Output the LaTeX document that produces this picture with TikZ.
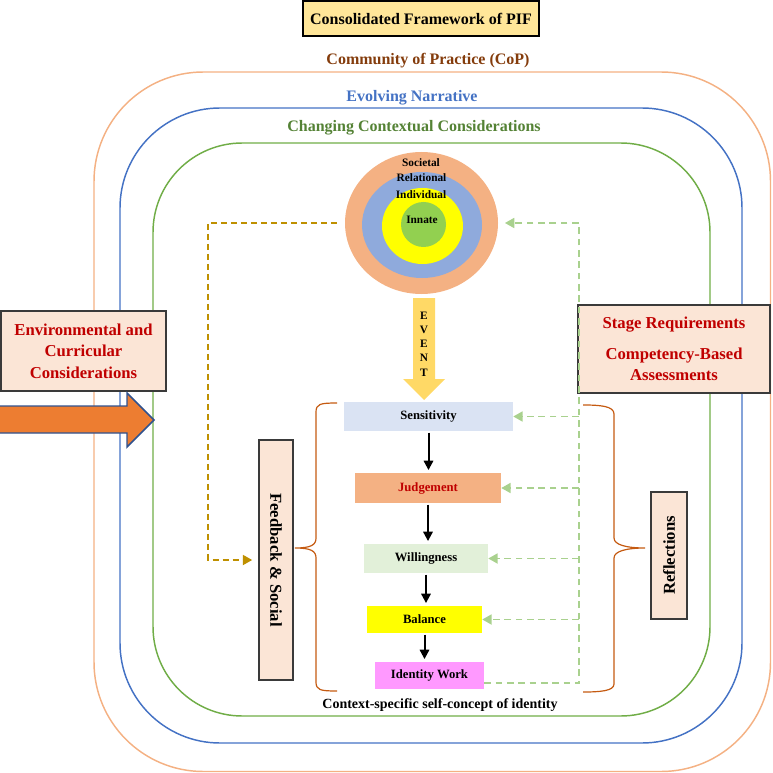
\documentclass[tikz,border=0pt]{standalone}
\usepackage{fontspec}
\setmainfont{Liberation Serif}
\usetikzlibrary{arrows.meta,shapes.geometric}

\definecolor{copc}{HTML}{F4B183}
\definecolor{coptxt}{HTML}{843C0C}
\definecolor{narrc}{HTML}{4472C4}
\definecolor{ctxc}{HTML}{70AD47}
\definecolor{ctxtxt}{HTML}{548235}
\definecolor{titlec}{HTML}{FFE699}
\definecolor{redtxt}{HTML}{C00000}
\definecolor{peach}{HTML}{FBE5D6}
\definecolor{boxline}{HTML}{3A3A3A}
\definecolor{sensc}{HTML}{DAE3F3}
\definecolor{judgc}{HTML}{F4B183}
\definecolor{willc}{HTML}{E2F0D9}
\definecolor{balc}{HTML}{FFFF00}
\definecolor{idc}{HTML}{FF99FF}
\definecolor{socc}{HTML}{F4B183}
\definecolor{relc}{HTML}{8FAADC}
\definecolor{indc}{HTML}{FFFF00}
\definecolor{innc}{HTML}{92D050}
\definecolor{eventc}{HTML}{FFD966}
\definecolor{fsc}{HTML}{BF9000}
\definecolor{fbc}{HTML}{A9D18E}
\definecolor{bracec}{HTML}{C55A11}
\definecolor{arrowc}{HTML}{ED7D31}
\definecolor{arrowbd}{HTML}{2F528F}

\begin{document}
\begin{tikzpicture}[x=0.75pt,y=-0.75pt]
%\draw[help lines,step=50] (0,0) grid (773,773);
\useasboundingbox (0,0) rectangle (773,773);
\tikzstyle{lbl}=[inner sep=0pt,align=center]
\tikzstyle{big}=[font=\fontsize{12.5}{16}\selectfont\bfseries]
\tikzstyle{frame}=[line width=1.1pt]
\tikzstyle{ring}=[ellipse,inner sep=0pt]
\tikzstyle{ringtxt}=[lbl,font=\fontsize{8.5}{10}\selectfont\bfseries]
\tikzstyle{stagebox}=[inner sep=0pt,font=\fontsize{9.5}{11}\selectfont\bfseries]
\tikzstyle{side}=[draw=boxline,fill=peach,line width=1.2pt,inner sep=0pt,align=center]
\tikzstyle{flow}=[-{Triangle[length=7pt,width=7pt]},line width=1.5pt,shorten >=2pt,shorten <=1pt]
\tikzstyle{fb}=[draw=fbc,line width=1.3pt,dash pattern=on 5pt off 3.5pt,-{Triangle[length=7pt,width=7.5pt]}]
\tikzstyle{fs}=[draw=fsc,line width=1.3pt,dash pattern=on 4.5pt off 3pt,-{Triangle[length=7pt,width=7.5pt]}]
\tikzstyle{brc}=[draw=bracec,line width=0.9pt]

% nested contexts
\draw[frame,draw=copc,rounded corners=82pt] (94,72) rectangle (770.5,771.5);
\draw[frame,draw=narrc,rounded corners=75pt] (120,108) rectangle (742,743);
\draw[frame,draw=ctxc,rounded corners=67pt] (153,143) rectangle (710,716);

\node[draw,fill=titlec,line width=1pt,minimum width=177pt,minimum height=26.25pt,inner sep=0pt,font=\fontsize{12}{14}\selectfont\bfseries] (title) at (421,18.5) {Consolidated Framework of PIF};
\node[lbl,text=coptxt,font=\fontsize{12}{14}\selectfont\bfseries] (cop) at (428,61) {Community of Practice (CoP)};
\node[lbl,text=narrc,font=\fontsize{12}{14}\selectfont\bfseries] (narr) at (412,98) {Evolving Narrative};
\node[lbl,text=ctxtxt,font=\fontsize{12}{14}\selectfont\bfseries] (ctx) at (414,128) {Changing Contextual Considerations};

% identity levels
\node[ring,fill=socc,minimum width=114.75pt,minimum height=106.5pt] (soc) at (421.5,223) {};
\node[ring,fill=relc,minimum width=90pt,minimum height=79.5pt] (rel) at (422,225) {};
\node[ring,fill=indc,minimum width=60.75pt,minimum height=57pt] (ind) at (422.5,226) {};
\node[ring,fill=innc,minimum width=33.75pt,minimum height=33.75pt] (inn) at (423.5,224.5) {};
\node[ringtxt] (socl) at (421,163) {Societal};
\node[ringtxt] (rell) at (421.5,178) {Relational};
\node[ringtxt] (indl) at (421,195) {Individual};
\node[ringtxt] (innl) at (422,219.5) {Innate};

\fill[eventc] (413,298) -- (435,298) -- (435,379) -- (445,379) -- (424,400) -- (403,379) -- (413,379) -- cycle;
\node[lbl,font=\fontsize{8.5}{10.7}\selectfont\bfseries] (evt) at (424,344) {E\\V\\E\\N\\T};

% process
\node[stagebox,fill=sensc,minimum width=126.75pt,minimum height=21.75pt] (sens) at (428.5,416.5) {Sensitivity};
\node[stagebox,fill=judgc,text=redtxt,minimum width=109.5pt,minimum height=22.5pt] (judg) at (428,488) {Judgement};
\node[stagebox,fill=willc,minimum width=93pt,minimum height=21.75pt] (will) at (426,558.5) {Willingness};
\node[stagebox,fill=balc,minimum width=86.25pt,minimum height=20.25pt] (bal) at (424.5,619.5) {Balance};
\node[stagebox,fill=idc,minimum width=81.75pt,minimum height=20.25pt] (idw) at (429.5,675.5) {Identity Work};

\draw[flow] (sens.south) -- (sens.south |- judg.north);
\draw[flow] (judg.south) -- (judg.south |- will.north);
\draw[flow] (will.south) -- (will.south |- bal.north);
\draw[flow] (bal.south) -- (bal.south |- idw.north);

\node[lbl,font=\fontsize{10.5}{12}\selectfont\bfseries] (selfc) at (440,705) {Context-specific self-concept of identity};

% side boxes
\node[side,big,text=redtxt,minimum width=123.75pt,minimum height=60pt] (env) at (83.5,351) {Environmental and\\Curricular\\Considerations};
\node[side,big,text=redtxt,minimum width=144pt,minimum height=66pt] (stg) at (674,349) {Stage Requirements\\[7pt]Competency-Based\\Assessments};
\node[side,big,rotate=-90,minimum width=180pt,minimum height=25.5pt] (fbs) at (276,560) {Feedback \& Social};
\node[side,big,rotate=90,minimum width=95.25pt,minimum height=27pt] (refl) at (669,555.5) {Reflections};

\filldraw[fill=arrowc,draw=arrowbd,line width=1.1pt] (-3,406) -- (127,406) -- (127,393) -- (154,420) -- (127,447) -- (127,433) -- (-3,433) -- cycle;

% braces
\draw[brc] (337,403) .. controls (320,403) and (316,404) .. (316,412) -- (316,538) .. controls (316,545) and (311,548) .. (295,548) .. controls (311,548) and (316,551) .. (316,558) -- (316,682) .. controls (316,690) and (320,691) .. (337,691);
\draw[brc] (583,405) .. controls (600,405) and (614,406) .. (614,414) -- (614,538) .. controls (614,545) and (627,548) .. (645,548) .. controls (627,548) and (614,551) .. (614,558) -- (614,684) .. controls (614,691) and (600,692) .. (583,692);

% feedback loops
\coordinate (rt) at (579,223);
\draw[fb] ([yshift=4.5pt]idw.south east) -| (rt) -- ([xshift=5pt]soc.east);
\foreach \n in {sens,judg,will,bal}
  \draw[fb] (rt |- \n.east) -- (\n.east);
\draw[fs] ([xshift=-6pt]soc.west) -| ([xshift=-37.5pt]fbs.south) -- ([xshift=-4.5pt]fbs.south);
\end{tikzpicture}
\end{document}
